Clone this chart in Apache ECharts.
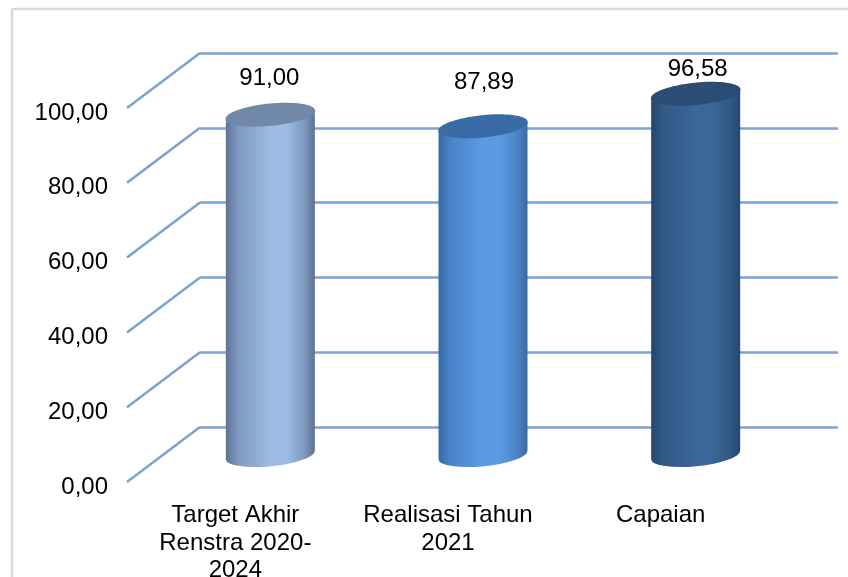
<!DOCTYPE html>
<html>
<head>
<meta charset="utf-8">
<style>
  html, body { margin: 0; padding: 0; background: #fff; }
  #chart { width: 848px; height: 577px; }
</style>
</head>
<body>
<div id="chart"></div>
<script src="https://cdn.jsdelivr.net/npm/echarts@6/dist/echarts.min.js"></script>
<script>
const categories = ['Target Akhir\nRenstra 2020-\n2024', 'Realisasi Tahun\n2021', 'Capaian']
const values = [91.00, 87.89, 96.58]
const yTicks = [0, 20, 40, 60, 80, 100]

// warna tiap silinder: tepi, bahu, tengah, tutup
const bodyEdge = ['#5c7292', '#376aa5', '#27456c']
const bodyShoulder = ['#7d99bf', '#4a85c8', '#315985']
const bodyMid = ['#9dbde4', '#5c9ae4', '#3b6699']
const capColor = ['#7288a8', '#396ca7', '#2b4c75']

const lineColor = '#7ca2cf'
const textFont = '24px "Liberation Sans", Arial, sans-serif'

// geser dari dinding belakang ke bidang tengah silinder
const midShift = [-36, 28]
const depthShift = [-73, 55]
const labelNudge = [[-1, -36], [1, -44], [2, -24]]

const fmt = (v) => v.toFixed(2).replace('.', ',')

const chart = echarts.init(document.getElementById('chart'))

const renderDepth = (params, api) => {
  const y = api.coord([0, api.value(0)])[1]
  const x = params.coordSys.x
  return {
    type: 'line',
    shape: { x1: x, y1: y, x2: x + depthShift[0], y2: y + depthShift[1] },
    style: { stroke: lineColor, lineWidth: 2.5 }
  }
}

const renderCylinder = (params, api) => {
  const i = params.dataIndex
  const top = api.coord([i, api.value(1)])
  const base = api.coord([i, 0])
  const cx = top[0] + midShift[0]
  const cyTop = top[1] + midShift[1]
  const cyBase = base[1] + midShift[1]
  const rx = 44.5
  const ry = 11.2
  const dy = 4.5 // kemiringan elips
  const rot = -Math.atan2(dy, rx) * 180 / Math.PI
  const body = [
    'M', cx - rx, cyTop + dy,
    'L', cx - rx, cyBase + dy,
    'A', rx, ry, rot, 0, 0, cx + rx, cyBase - dy,
    'L', cx + rx, cyTop - dy,
    'Z'
  ].join(' ')
  return {
    type: 'group',
    children: [
      {
        type: 'path',
        shape: { pathData: body },
        style: {
          fill: new echarts.graphic.LinearGradient(0, 0, 1, 0, [
            { offset: 0, color: bodyEdge[i] },
            { offset: 0.14, color: bodyShoulder[i] },
            { offset: 0.5, color: bodyMid[i] },
            { offset: 0.68, color: bodyMid[i] },
            { offset: 0.88, color: bodyShoulder[i] },
            { offset: 1, color: bodyEdge[i] }
          ])
        }
      },
      {
        type: 'ellipse',
        shape: { cx: 0, cy: 0, rx: rx + 0.5, ry: ry },
        x: cx,
        y: cyTop,
        rotation: Math.atan2(dy, rx),
        style: { fill: capColor[i] }
      },
      {
        type: 'text',
        style: {
          text: fmt(api.value(1)),
          x: cx + labelNudge[i][0],
          y: cyTop + labelNudge[i][1],
          font: textFont,
          fill: '#000',
          align: 'center',
          verticalAlign: 'middle'
        }
      }
    ]
  }
}

chart.setOption({
  animation: false,
  backgroundColor: '#fff',
  graphic: [
    { type: 'line', shape: { x1: 12, y1: 9, x2: 848, y2: 9 }, style: { stroke: '#d9d9d9', lineWidth: 2.5 } },
    { type: 'line', shape: { x1: 12, y1: 9, x2: 12, y2: 577 }, style: { stroke: '#d9d9d9', lineWidth: 2.5 } }
  ],
  grid: [
    // dinding belakang
    { left: 200, top: 53, width: 638, height: 374, outerBoundsMode: 'none' },
    // bidang depan, tempat label sumbu
    { left: 129, top: 113, width: 638, height: 374, outerBoundsMode: 'none' }
  ],
  xAxis: [
    {
      type: 'category',
      gridIndex: 0,
      data: categories,
      axisLine: { show: false },
      axisTick: { show: false },
      axisLabel: { show: false }
    },
    {
      type: 'category',
      gridIndex: 1,
      data: categories,
      axisLine: { show: false },
      axisTick: { show: false },
      axisLabel: {
        margin: 15,
        interval: 0,
        color: '#000',
        fontSize: 24,
        lineHeight: 27.5,
        fontFamily: '"Liberation Sans", Arial, sans-serif'
      }
    }
  ],
  yAxis: [
    {
      type: 'value',
      gridIndex: 0,
      min: 0,
      max: 100,
      interval: 20,
      axisLine: { show: false },
      axisTick: { show: false },
      axisLabel: { show: false },
      splitLine: { lineStyle: { color: lineColor, width: 2.5 } }
    },
    {
      type: 'value',
      gridIndex: 1,
      min: 0,
      max: 100,
      interval: 20,
      axisLine: { show: false },
      axisTick: { show: false },
      splitLine: { show: false },
      axisLabel: {
        margin: 21,
        color: '#000',
        fontSize: 24,
        fontFamily: '"Liberation Sans", Arial, sans-serif',
        formatter: (v) => fmt(v)
      }
    }
  ],
  series: [
    {
      type: 'custom',
      xAxisIndex: 0,
      yAxisIndex: 0,
      silent: true,
      encode: { y: 0 },
      data: yTicks.map((v) => [v]),
      clip: false,
      renderItem: renderDepth,
      z: 2
    },
    {
      type: 'custom',
      xAxisIndex: 0,
      yAxisIndex: 0,
      encode: { x: 0, y: 1 },
      data: values.map((v, i) => [i, v]),
      clip: false,
      renderItem: renderCylinder,
      z: 3
    }
  ]
})
</script>
</body>
</html>
